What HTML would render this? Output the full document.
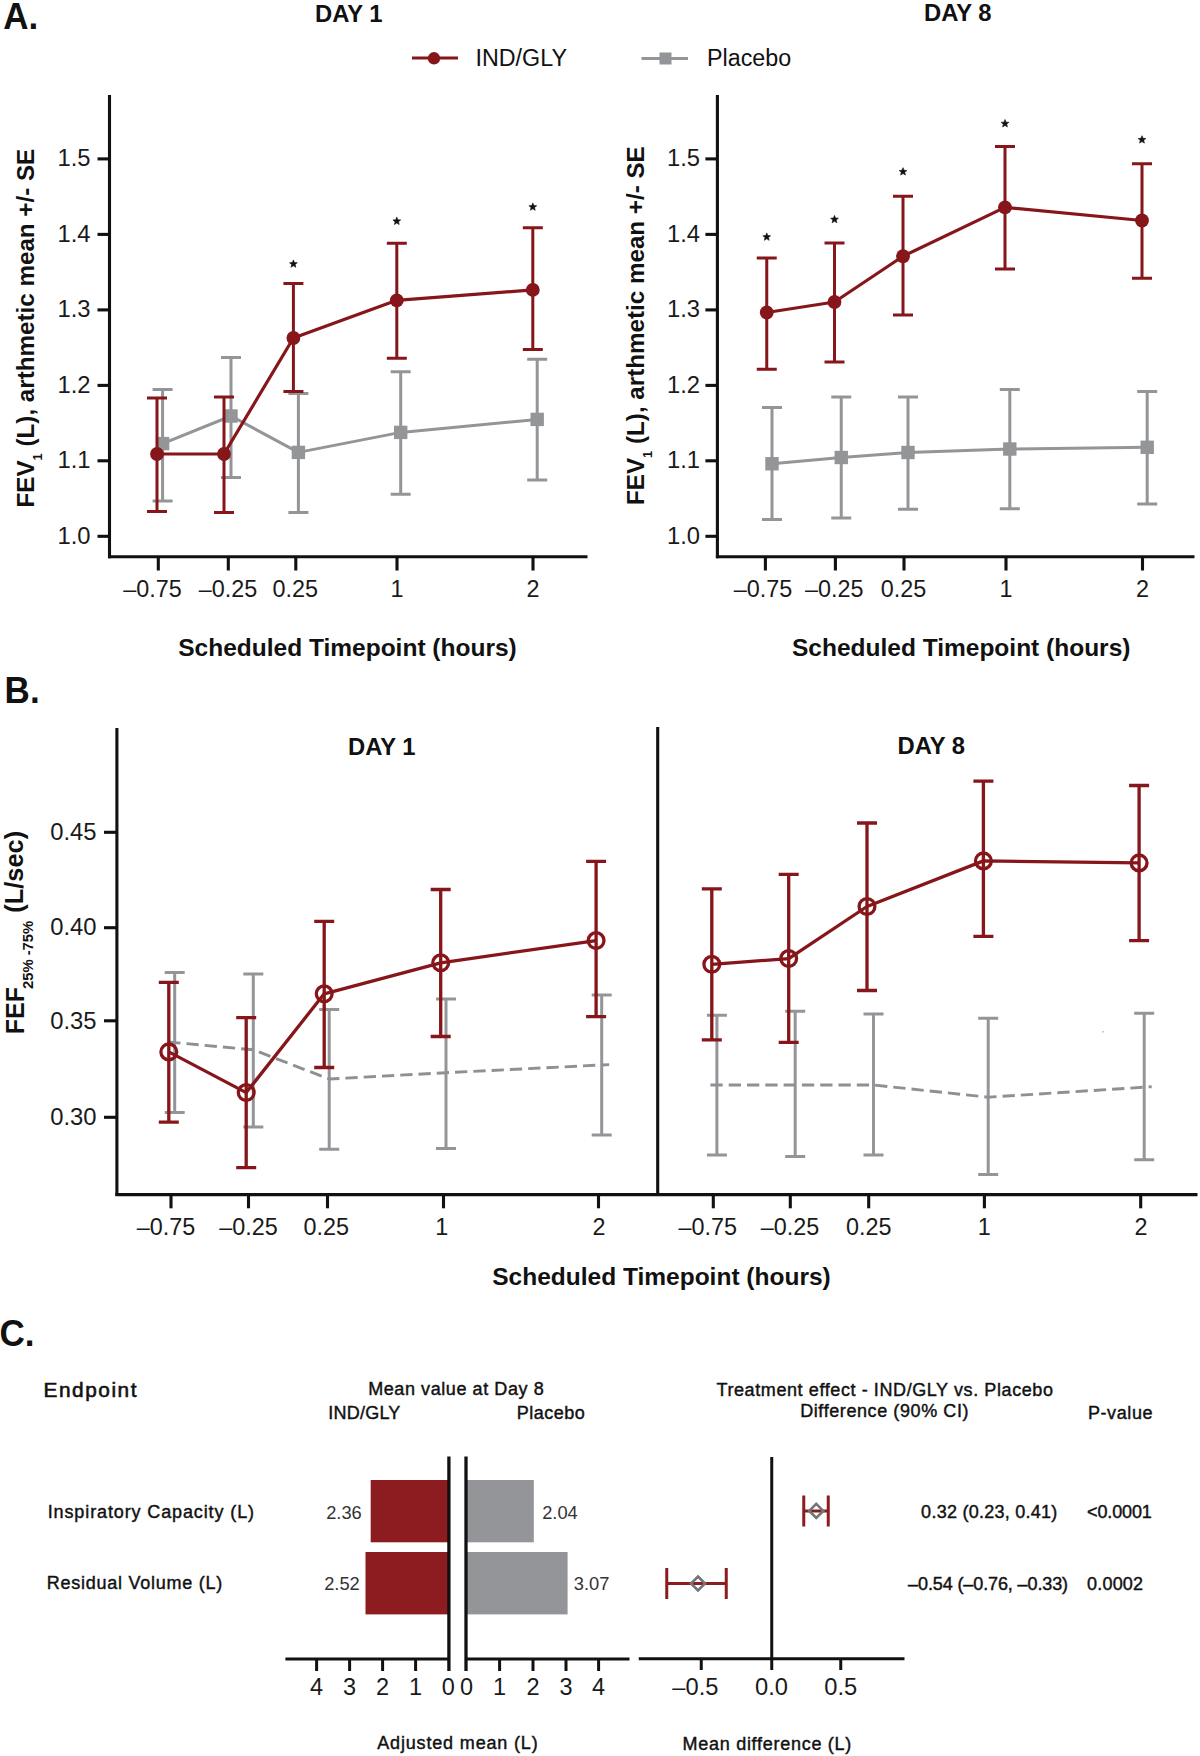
<!DOCTYPE html>
<html><head><meta charset="utf-8"><style>
html,body{margin:0;padding:0;background:#fff;}
svg{display:block;font-family:"Liberation Sans", sans-serif;}
</style></head><body>
<svg width="1200" height="1756" viewBox="0 0 1200 1756">
<rect x="0" y="0" width="1200" height="1756" fill="#fff"/>
<text transform="translate(3.2,28.5) scale(0.96,1)" font-size="36.5" font-weight="bold" fill="#111">A.</text>
<text x="348.75" y="21.8" font-size="23.8" font-weight="bold" text-anchor="middle" fill="#111" >DAY 1</text>
<text x="957.7" y="21.3" font-size="23.8" font-weight="bold" text-anchor="middle" fill="#111" >DAY 8</text>
<line x1="412" y1="58" x2="458" y2="58" stroke="#86161a" stroke-width="3" />
<circle cx="434" cy="58.3" r="6.2" fill="#86161a"/>
<text x="475.5" y="66" font-size="23.3" font-weight="normal" text-anchor="start" fill="#111" >IND/GLY</text>
<line x1="641.5" y1="58.5" x2="688" y2="58.5" stroke="#939598" stroke-width="3" />
<rect x="659.5" y="52.5" width="12" height="12" fill="#939598"/>
<text x="707" y="66" font-size="23.3" font-weight="normal" text-anchor="start" fill="#111" >Placebo</text>
<line x1="109.5" y1="95" x2="109.5" y2="558.3" stroke="#111" stroke-width="3.1" />
<line x1="108.0" y1="556.7" x2="587.5" y2="556.7" stroke="#111" stroke-width="3.1" />
<line x1="97.5" y1="158.9" x2="109.5" y2="158.9" stroke="#111" stroke-width="3.1" />
<text x="90.5" y="166.1" font-size="23.8" font-weight="normal" text-anchor="end" fill="#1a1a1a" >1.5</text>
<line x1="97.5" y1="234.4" x2="109.5" y2="234.4" stroke="#111" stroke-width="3.1" />
<text x="90.5" y="241.6" font-size="23.8" font-weight="normal" text-anchor="end" fill="#1a1a1a" >1.4</text>
<line x1="97.5" y1="309.9" x2="109.5" y2="309.9" stroke="#111" stroke-width="3.1" />
<text x="90.5" y="317.09999999999997" font-size="23.8" font-weight="normal" text-anchor="end" fill="#1a1a1a" >1.3</text>
<line x1="97.5" y1="385.4" x2="109.5" y2="385.4" stroke="#111" stroke-width="3.1" />
<text x="90.5" y="392.59999999999997" font-size="23.8" font-weight="normal" text-anchor="end" fill="#1a1a1a" >1.2</text>
<line x1="97.5" y1="460.8" x2="109.5" y2="460.8" stroke="#111" stroke-width="3.1" />
<text x="90.5" y="468.0" font-size="23.8" font-weight="normal" text-anchor="end" fill="#1a1a1a" >1.1</text>
<line x1="97.5" y1="536.3" x2="109.5" y2="536.3" stroke="#111" stroke-width="3.1" />
<text x="90.5" y="543.5" font-size="23.8" font-weight="normal" text-anchor="end" fill="#1a1a1a" >1.0</text>
<line x1="158.3" y1="556.7" x2="158.3" y2="570.5" stroke="#111" stroke-width="3.1" />
<text x="152.5" y="597.3" font-size="23.4" font-weight="normal" text-anchor="middle" fill="#1a1a1a" >–0.75</text>
<line x1="228.3" y1="556.7" x2="228.3" y2="570.5" stroke="#111" stroke-width="3.1" />
<text x="228" y="597.3" font-size="23.4" font-weight="normal" text-anchor="middle" fill="#1a1a1a" >–0.25</text>
<line x1="295.8" y1="556.7" x2="295.8" y2="570.5" stroke="#111" stroke-width="3.1" />
<text x="295.3" y="597.3" font-size="23.4" font-weight="normal" text-anchor="middle" fill="#1a1a1a" >0.25</text>
<line x1="397" y1="556.7" x2="397" y2="570.5" stroke="#111" stroke-width="3.1" />
<text x="397" y="597.3" font-size="23.4" font-weight="normal" text-anchor="middle" fill="#1a1a1a" >1</text>
<line x1="533" y1="556.7" x2="533" y2="570.5" stroke="#111" stroke-width="3.1" />
<text x="533" y="597.3" font-size="23.4" font-weight="normal" text-anchor="middle" fill="#1a1a1a" >2</text>
<text x="347.5" y="655.5" font-size="24.5" font-weight="bold" text-anchor="middle" fill="#111" >Scheduled Timepoint (hours)</text>
<text transform="translate(34.4,507.5) rotate(-90)" font-size="24.2" font-weight="bold" fill="#111">FEV<tspan font-size="13" dy="8">1</tspan><tspan dy="-8"> (L), arthmetic mean +/- SE</tspan></text>
<line x1="717.4" y1="95" x2="717.4" y2="558.3" stroke="#111" stroke-width="3.1" />
<line x1="715.9" y1="556.7" x2="1194.5" y2="556.7" stroke="#111" stroke-width="3.1" />
<line x1="705.4" y1="158.9" x2="717.4" y2="158.9" stroke="#111" stroke-width="3.1" />
<text x="700" y="166.1" font-size="23.8" font-weight="normal" text-anchor="end" fill="#1a1a1a" >1.5</text>
<line x1="705.4" y1="234.4" x2="717.4" y2="234.4" stroke="#111" stroke-width="3.1" />
<text x="700" y="241.6" font-size="23.8" font-weight="normal" text-anchor="end" fill="#1a1a1a" >1.4</text>
<line x1="705.4" y1="309.9" x2="717.4" y2="309.9" stroke="#111" stroke-width="3.1" />
<text x="700" y="317.09999999999997" font-size="23.8" font-weight="normal" text-anchor="end" fill="#1a1a1a" >1.3</text>
<line x1="705.4" y1="385.4" x2="717.4" y2="385.4" stroke="#111" stroke-width="3.1" />
<text x="700" y="392.59999999999997" font-size="23.8" font-weight="normal" text-anchor="end" fill="#1a1a1a" >1.2</text>
<line x1="705.4" y1="460.8" x2="717.4" y2="460.8" stroke="#111" stroke-width="3.1" />
<text x="700" y="468.0" font-size="23.8" font-weight="normal" text-anchor="end" fill="#1a1a1a" >1.1</text>
<line x1="705.4" y1="536.3" x2="717.4" y2="536.3" stroke="#111" stroke-width="3.1" />
<text x="700" y="543.5" font-size="23.8" font-weight="normal" text-anchor="end" fill="#1a1a1a" >1.0</text>
<line x1="765.4" y1="556.7" x2="765.4" y2="570.5" stroke="#111" stroke-width="3.1" />
<text x="763" y="597.3" font-size="23.4" font-weight="normal" text-anchor="middle" fill="#1a1a1a" >–0.75</text>
<line x1="835.4" y1="556.7" x2="835.4" y2="570.5" stroke="#111" stroke-width="3.1" />
<text x="834.3" y="597.3" font-size="23.4" font-weight="normal" text-anchor="middle" fill="#1a1a1a" >–0.25</text>
<line x1="904" y1="556.7" x2="904" y2="570.5" stroke="#111" stroke-width="3.1" />
<text x="903.5" y="597.3" font-size="23.4" font-weight="normal" text-anchor="middle" fill="#1a1a1a" >0.25</text>
<line x1="1006" y1="556.7" x2="1006" y2="570.5" stroke="#111" stroke-width="3.1" />
<text x="1006" y="597.3" font-size="23.4" font-weight="normal" text-anchor="middle" fill="#1a1a1a" >1</text>
<line x1="1142.5" y1="556.7" x2="1142.5" y2="570.5" stroke="#111" stroke-width="3.1" />
<text x="1142.5" y="597.3" font-size="23.4" font-weight="normal" text-anchor="middle" fill="#1a1a1a" >2</text>
<text x="961.2" y="655.5" font-size="24.5" font-weight="bold" text-anchor="middle" fill="#111" >Scheduled Timepoint (hours)</text>
<text transform="translate(644.2,505.0) rotate(-90)" font-size="24.2" font-weight="bold" fill="#111">FEV<tspan font-size="13" dy="8">1</tspan><tspan dy="-8"> (L), arthmetic mean +/- SE</tspan></text>
<path d="M162.6,389.6V501M152.6,389.6H172.6M152.6,501H172.6" stroke="#939598" stroke-width="3.0" fill="none"/>
<path d="M231,357.4V477.6M221.0,357.4H241.0M221.0,477.6H241.0" stroke="#939598" stroke-width="3.0" fill="none"/>
<path d="M298.4,393.4V512.4M288.4,393.4H308.4M288.4,512.4H308.4" stroke="#939598" stroke-width="3.0" fill="none"/>
<path d="M400.7,371.8V494.2M390.7,371.8H410.7M390.7,494.2H410.7" stroke="#939598" stroke-width="3.0" fill="none"/>
<path d="M537.2,359.2V480.1M527.2,359.2H547.2M527.2,480.1H547.2" stroke="#939598" stroke-width="3.0" fill="none"/>
<polyline points="162.6,443.6 231,416 298.4,452.4 400.7,432.4 537.2,419.4" stroke="#939598" stroke-width="3.0" fill="none" stroke-linejoin="round" />
<rect x="155.9" y="436.90000000000003" width="13.4" height="13.4" fill="#939598"/>
<rect x="224.3" y="409.3" width="13.4" height="13.4" fill="#939598"/>
<rect x="291.7" y="445.7" width="13.4" height="13.4" fill="#939598"/>
<rect x="394.0" y="425.7" width="13.4" height="13.4" fill="#939598"/>
<rect x="530.5" y="412.7" width="13.4" height="13.4" fill="#939598"/>
<path d="M157,398V511.4M147.0,398H167.0M147.0,511.4H167.0" stroke="#86161a" stroke-width="3.0" fill="none"/>
<path d="M224,397V512.4M214.0,397H234.0M214.0,512.4H234.0" stroke="#86161a" stroke-width="3.0" fill="none"/>
<path d="M293.4,283.6V391.4M283.4,283.6H303.4M283.4,391.4H303.4" stroke="#86161a" stroke-width="3.0" fill="none"/>
<path d="M396.8,243.3V358.3M386.8,243.3H406.8M386.8,358.3H406.8" stroke="#86161a" stroke-width="3.0" fill="none"/>
<path d="M532.8,227.7V349.4M522.8,227.7H542.8M522.8,349.4H542.8" stroke="#86161a" stroke-width="3.0" fill="none"/>
<polyline points="157,454 224,454 293.4,338 396.8,300.3 532.8,289.9" stroke="#86161a" stroke-width="3.2" fill="none" stroke-linejoin="round" />
<circle cx="157" cy="454" r="6.9" fill="#86161a"/>
<circle cx="224" cy="454" r="6.9" fill="#86161a"/>
<circle cx="293.4" cy="338" r="6.9" fill="#86161a"/>
<polygon points="293.40,259.90 294.46,262.54 297.30,262.73 295.11,264.56 295.81,267.32 293.40,265.80 290.99,267.32 291.69,264.56 289.50,262.73 292.34,262.54" fill="#111" stroke="#111" stroke-width="0.6" stroke-linejoin="round"/>
<circle cx="396.8" cy="300.3" r="6.9" fill="#86161a"/>
<polygon points="396.80,217.10 397.86,219.74 400.70,219.93 398.51,221.76 399.21,224.52 396.80,223.00 394.39,224.52 395.09,221.76 392.90,219.93 395.74,219.74" fill="#111" stroke="#111" stroke-width="0.6" stroke-linejoin="round"/>
<circle cx="532.8" cy="289.9" r="6.9" fill="#86161a"/>
<polygon points="532.80,202.90 533.86,205.54 536.70,205.73 534.51,207.56 535.21,210.32 532.80,208.80 530.39,210.32 531.09,207.56 528.90,205.73 531.74,205.54" fill="#111" stroke="#111" stroke-width="0.6" stroke-linejoin="round"/>
<path d="M772,407.5V519.5M762.0,407.5H782.0M762.0,519.5H782.0" stroke="#939598" stroke-width="3.0" fill="none"/>
<path d="M841.25,397V518M831.25,397H851.25M831.25,518H851.25" stroke="#939598" stroke-width="3.0" fill="none"/>
<path d="M908,397V509.25M898.0,397H918.0M898.0,509.25H918.0" stroke="#939598" stroke-width="3.0" fill="none"/>
<path d="M1009.8,389.5V508.7M999.8,389.5H1019.8M999.8,508.7H1019.8" stroke="#939598" stroke-width="3.0" fill="none"/>
<path d="M1147.2,391.6V504M1137.2,391.6H1157.2M1137.2,504H1157.2" stroke="#939598" stroke-width="3.0" fill="none"/>
<polyline points="772,463.75 841.25,457.5 908,452.5 1009.8,449 1147.2,447.3" stroke="#939598" stroke-width="3.0" fill="none" stroke-linejoin="round" />
<rect x="765.3" y="457.05" width="13.4" height="13.4" fill="#939598"/>
<rect x="834.55" y="450.8" width="13.4" height="13.4" fill="#939598"/>
<rect x="901.3" y="445.8" width="13.4" height="13.4" fill="#939598"/>
<rect x="1003.0999999999999" y="442.3" width="13.4" height="13.4" fill="#939598"/>
<rect x="1140.5" y="440.6" width="13.4" height="13.4" fill="#939598"/>
<path d="M766.75,258V369.25M756.75,258H776.75M756.75,369.25H776.75" stroke="#86161a" stroke-width="3.0" fill="none"/>
<path d="M834.5,243V362M824.5,243H844.5M824.5,362H844.5" stroke="#86161a" stroke-width="3.0" fill="none"/>
<path d="M903,196.25V315M893.0,196.25H913.0M893.0,315H913.0" stroke="#86161a" stroke-width="3.0" fill="none"/>
<path d="M1005,146.6V269M995.0,146.6H1015.0M995.0,269H1015.0" stroke="#86161a" stroke-width="3.0" fill="none"/>
<path d="M1142,163.7V278.2M1132.0,163.7H1152.0M1132.0,278.2H1152.0" stroke="#86161a" stroke-width="3.0" fill="none"/>
<polyline points="766.75,312.5 834.5,302 903,256.25 1005,207.4 1142,220.5" stroke="#86161a" stroke-width="3.2" fill="none" stroke-linejoin="round" />
<circle cx="766.75" cy="312.5" r="6.9" fill="#86161a"/>
<polygon points="766.75,232.90 767.81,235.54 770.65,235.73 768.46,237.56 769.16,240.32 766.75,238.80 764.34,240.32 765.04,237.56 762.85,235.73 765.69,235.54" fill="#111" stroke="#111" stroke-width="0.6" stroke-linejoin="round"/>
<circle cx="834.5" cy="302" r="6.9" fill="#86161a"/>
<polygon points="834.50,215.40 835.56,218.04 838.40,218.23 836.21,220.06 836.91,222.82 834.50,221.30 832.09,222.82 832.79,220.06 830.60,218.23 833.44,218.04" fill="#111" stroke="#111" stroke-width="0.6" stroke-linejoin="round"/>
<circle cx="903" cy="256.25" r="6.9" fill="#86161a"/>
<polygon points="903.00,167.65 904.06,170.29 906.90,170.48 904.71,172.31 905.41,175.07 903.00,173.55 900.59,175.07 901.29,172.31 899.10,170.48 901.94,170.29" fill="#111" stroke="#111" stroke-width="0.6" stroke-linejoin="round"/>
<circle cx="1005" cy="207.4" r="6.9" fill="#86161a"/>
<polygon points="1005.00,119.50 1006.06,122.14 1008.90,122.33 1006.71,124.16 1007.41,126.92 1005.00,125.40 1002.59,126.92 1003.29,124.16 1001.10,122.33 1003.94,122.14" fill="#111" stroke="#111" stroke-width="0.6" stroke-linejoin="round"/>
<circle cx="1142" cy="220.5" r="6.9" fill="#86161a"/>
<polygon points="1142.00,135.70 1143.06,138.34 1145.90,138.53 1143.71,140.36 1144.41,143.12 1142.00,141.60 1139.59,143.12 1140.29,140.36 1138.10,138.53 1140.94,138.34" fill="#111" stroke="#111" stroke-width="0.6" stroke-linejoin="round"/>
<text transform="translate(4.6,702.5) scale(0.96,1)" font-size="36.5" font-weight="bold" fill="#111">B.</text>
<line x1="116.9" y1="728" x2="116.9" y2="1196" stroke="#111" stroke-width="3.1" />
<line x1="657.7" y1="727" x2="657.7" y2="1196" stroke="#111" stroke-width="3.1" />
<line x1="115.4" y1="1194.6" x2="1197.5" y2="1194.6" stroke="#111" stroke-width="3.1" />
<line x1="104" y1="832.3" x2="116.9" y2="832.3" stroke="#111" stroke-width="3.1" />
<text x="96.5" y="840.0" font-size="23.8" font-weight="normal" text-anchor="end" fill="#1a1a1a" >0.45</text>
<line x1="104" y1="927.7" x2="116.9" y2="927.7" stroke="#111" stroke-width="3.1" />
<text x="96.5" y="935.4000000000001" font-size="23.8" font-weight="normal" text-anchor="end" fill="#1a1a1a" >0.40</text>
<line x1="104" y1="1020.8" x2="116.9" y2="1020.8" stroke="#111" stroke-width="3.1" />
<text x="96.5" y="1028.5" font-size="23.8" font-weight="normal" text-anchor="end" fill="#1a1a1a" >0.35</text>
<line x1="104" y1="1117.3" x2="116.9" y2="1117.3" stroke="#111" stroke-width="3.1" />
<text x="96.5" y="1125.0" font-size="23.8" font-weight="normal" text-anchor="end" fill="#1a1a1a" >0.30</text>
<line x1="171" y1="1194.6" x2="171" y2="1208.3" stroke="#111" stroke-width="3.1" />
<text x="166" y="1235.3" font-size="23.4" font-weight="normal" text-anchor="middle" fill="#1a1a1a" >–0.75</text>
<line x1="248.5" y1="1194.6" x2="248.5" y2="1208.3" stroke="#111" stroke-width="3.1" />
<text x="248.5" y="1235.3" font-size="23.4" font-weight="normal" text-anchor="middle" fill="#1a1a1a" >–0.25</text>
<line x1="327.5" y1="1194.6" x2="327.5" y2="1208.3" stroke="#111" stroke-width="3.1" />
<text x="326.3" y="1235.3" font-size="23.4" font-weight="normal" text-anchor="middle" fill="#1a1a1a" >0.25</text>
<line x1="443.5" y1="1194.6" x2="443.5" y2="1208.3" stroke="#111" stroke-width="3.1" />
<text x="441.8" y="1235.3" font-size="23.4" font-weight="normal" text-anchor="middle" fill="#1a1a1a" >1</text>
<line x1="598.5" y1="1194.6" x2="598.5" y2="1208.3" stroke="#111" stroke-width="3.1" />
<text x="599" y="1235.3" font-size="23.4" font-weight="normal" text-anchor="middle" fill="#1a1a1a" >2</text>
<line x1="713.3" y1="1194.6" x2="713.3" y2="1208.3" stroke="#111" stroke-width="3.1" />
<text x="707.7" y="1235.3" font-size="23.4" font-weight="normal" text-anchor="middle" fill="#1a1a1a" >–0.75</text>
<line x1="790.3" y1="1194.6" x2="790.3" y2="1208.3" stroke="#111" stroke-width="3.1" />
<text x="790" y="1235.3" font-size="23.4" font-weight="normal" text-anchor="middle" fill="#1a1a1a" >–0.25</text>
<line x1="868.7" y1="1194.6" x2="868.7" y2="1208.3" stroke="#111" stroke-width="3.1" />
<text x="868.7" y="1235.3" font-size="23.4" font-weight="normal" text-anchor="middle" fill="#1a1a1a" >0.25</text>
<line x1="984.4" y1="1194.6" x2="984.4" y2="1208.3" stroke="#111" stroke-width="3.1" />
<text x="984.2" y="1235.3" font-size="23.4" font-weight="normal" text-anchor="middle" fill="#1a1a1a" >1</text>
<line x1="1140.7" y1="1194.6" x2="1140.7" y2="1208.3" stroke="#111" stroke-width="3.1" />
<text x="1141" y="1235.3" font-size="23.4" font-weight="normal" text-anchor="middle" fill="#1a1a1a" >2</text>
<text x="661.5" y="1285.2" font-size="24.5" font-weight="bold" text-anchor="middle" fill="#111" >Scheduled Timepoint (hours)</text>
<text x="381.7" y="754.8" font-size="23.8" font-weight="bold" text-anchor="middle" fill="#111" >DAY 1</text>
<text x="931.2" y="754.4" font-size="23.8" font-weight="bold" text-anchor="middle" fill="#111" >DAY 8</text>
<text transform="translate(23.6,1034.3) rotate(-90)" font-size="25" font-weight="bold" fill="#111">FEF<tspan font-size="14.8" dx="-2" dy="9.5">25% -75%</tspan></text>
<text transform="translate(23.4,912.7) rotate(-90)" font-size="25.4" font-weight="bold" fill="#111">(L/sec)</text>
<path d="M174.7,972.6V1112.4M164.7,972.6H184.7M164.7,1112.4H184.7" stroke="#939598" stroke-width="3" fill="none"/>
<path d="M253.3,973.9V1127.1M243.3,973.9H263.3M243.3,1127.1H263.3" stroke="#939598" stroke-width="3" fill="none"/>
<path d="M329.2,1009.4V1149.3M319.2,1009.4H339.2M319.2,1149.3H339.2" stroke="#939598" stroke-width="3" fill="none"/>
<path d="M446,999V1148.5M436.0,999H456.0M436.0,1148.5H456.0" stroke="#939598" stroke-width="3" fill="none"/>
<path d="M601.7,995V1135M591.7,995H611.7M591.7,1135H611.7" stroke="#939598" stroke-width="3" fill="none"/>
<polyline points="168.2,1042.0045801526717 174.7,1042.6 253.3,1049.8 329.2,1079 446,1072.7 601.7,1065 609.2,1064.6290944123314" stroke="#8e9094" stroke-width="2.9" fill="none" stroke-linejoin="round" stroke-dasharray="12.3 6"/>
<path d="M168.8,982.4V1122.1M158.8,982.4H178.8M158.8,1122.1H178.8" stroke="#86161a" stroke-width="3.3" fill="none"/>
<path d="M246.2,1017.7V1167.7M236.2,1017.7H256.2M236.2,1167.7H256.2" stroke="#86161a" stroke-width="3.3" fill="none"/>
<path d="M324.2,921.3V1067.5M314.2,921.3H334.2M314.2,1067.5H334.2" stroke="#86161a" stroke-width="3.3" fill="none"/>
<path d="M440.7,889.5V1036.5M430.7,889.5H450.7M430.7,1036.5H450.7" stroke="#86161a" stroke-width="3.3" fill="none"/>
<path d="M596.1,861.3V1016.7M586.1,861.3H606.1M586.1,1016.7H606.1" stroke="#86161a" stroke-width="3.3" fill="none"/>
<polyline points="168.8,1051.9 246.2,1092.6 324.2,993.8 440.7,962.8 596.1,940.6" stroke="#86161a" stroke-width="3.3" fill="none" stroke-linejoin="round" />
<circle cx="168.8" cy="1051.9" r="7.9" fill="none" stroke="#86161a" stroke-width="3.3"/>
<circle cx="246.2" cy="1092.6" r="7.9" fill="none" stroke="#86161a" stroke-width="3.3"/>
<circle cx="324.2" cy="993.8" r="7.9" fill="none" stroke="#86161a" stroke-width="3.3"/>
<circle cx="440.7" cy="962.8" r="7.9" fill="none" stroke="#86161a" stroke-width="3.3"/>
<circle cx="596.1" cy="940.6" r="7.9" fill="none" stroke="#86161a" stroke-width="3.3"/>
<path d="M716.9,1015.3V1154.9M706.9,1015.3H726.9M706.9,1154.9H726.9" stroke="#939598" stroke-width="3" fill="none"/>
<path d="M795.2,1011.3V1156.6M785.2,1011.3H805.2M785.2,1156.6H805.2" stroke="#939598" stroke-width="3" fill="none"/>
<path d="M873.5,1013.9V1154.9M863.5,1013.9H883.5M863.5,1154.9H883.5" stroke="#939598" stroke-width="3" fill="none"/>
<path d="M988.2,1018.3V1174.6M978.2,1018.3H998.2M978.2,1174.6H998.2" stroke="#939598" stroke-width="3" fill="none"/>
<path d="M1144.2,1013.2V1159.8M1134.2,1013.2H1154.2M1134.2,1159.8H1154.2" stroke="#939598" stroke-width="3" fill="none"/>
<polyline points="710.4,1085.0 716.9,1085 795.2,1085 873.5,1085 988.2,1097.2 1144.2,1087.2 1151.7,1086.7192307692308" stroke="#8e9094" stroke-width="2.9" fill="none" stroke-linejoin="round" stroke-dasharray="12.3 6"/>
<path d="M711.8,888.8V1039.8M701.8,888.8H721.8M701.8,1039.8H721.8" stroke="#86161a" stroke-width="3.3" fill="none"/>
<path d="M788.7,874.3V1042.3M778.7,874.3H798.7M778.7,1042.3H798.7" stroke="#86161a" stroke-width="3.3" fill="none"/>
<path d="M867,823V990.5M857.0,823H877.0M857.0,990.5H877.0" stroke="#86161a" stroke-width="3.3" fill="none"/>
<path d="M983.4,781.2V936.3M973.4,781.2H993.4M973.4,936.3H993.4" stroke="#86161a" stroke-width="3.3" fill="none"/>
<path d="M1139.1,785.5V940.6M1129.1,785.5H1149.1M1129.1,940.6H1149.1" stroke="#86161a" stroke-width="3.3" fill="none"/>
<polyline points="711.8,964.3 788.7,958.6 867,906.5 983.4,860.9 1139.1,862.9" stroke="#86161a" stroke-width="3.3" fill="none" stroke-linejoin="round" />
<circle cx="711.8" cy="964.3" r="7.9" fill="none" stroke="#86161a" stroke-width="3.3"/>
<circle cx="788.7" cy="958.6" r="7.9" fill="none" stroke="#86161a" stroke-width="3.3"/>
<circle cx="867" cy="906.5" r="7.9" fill="none" stroke="#86161a" stroke-width="3.3"/>
<circle cx="983.4" cy="860.9" r="7.9" fill="none" stroke="#86161a" stroke-width="3.3"/>
<circle cx="1139.1" cy="862.9" r="7.9" fill="none" stroke="#86161a" stroke-width="3.3"/>
<circle cx="1103" cy="1031.7" r="0.9" fill="#bbb"/>
<text transform="translate(-0.6,1345.5) scale(0.96,1)" font-size="36.5" font-weight="bold" fill="#111">C.</text>
<text x="43.55" y="1397" font-size="20.8" font-weight="normal" letter-spacing="1.540" fill="#111" stroke="#111" stroke-width="0.6">Endpoint</text>
<text x="368.21" y="1395.4" font-size="18.0" font-weight="normal" letter-spacing="0.577" fill="#111" stroke="#111" stroke-width="0.42">Mean value at Day 8</text>
<text x="328.31" y="1418.5" font-size="18.0" font-weight="normal" letter-spacing="0.216" fill="#111" stroke="#111" stroke-width="0.42">IND/GLY</text>
<text x="516.71" y="1418.5" font-size="18.0" font-weight="normal" letter-spacing="0.505" fill="#111" stroke="#111" stroke-width="0.42">Placebo</text>
<text x="716.51" y="1395.5" font-size="18.0" font-weight="normal" letter-spacing="0.595" fill="#111" stroke="#111" stroke-width="0.42">Treatment effect - IND/GLY vs. Placebo</text>
<text x="800.21" y="1417.2" font-size="18.0" font-weight="normal" letter-spacing="0.586" fill="#111" stroke="#111" stroke-width="0.42">Difference (90% CI)</text>
<text x="1087.91" y="1419.4" font-size="18.0" font-weight="normal" letter-spacing="0.607" fill="#111" stroke="#111" stroke-width="0.42">P-value</text>
<text x="47.71" y="1518" font-size="18.0" font-weight="normal" letter-spacing="0.881" fill="#111" stroke="#111" stroke-width="0.42">Inspiratory Capacity (L)</text>
<text x="46.71" y="1589.3" font-size="18.0" font-weight="normal" letter-spacing="0.750" fill="#111" stroke="#111" stroke-width="0.42">Residual Volume (L)</text>
<rect x="370.7" y="1480" width="78" height="62.3" fill="#8c1c1f"/>
<rect x="365.5" y="1552" width="83.2" height="62.4" fill="#8c1c1f"/>
<rect x="466" y="1480" width="67.8" height="62.3" fill="#939598"/>
<rect x="466" y="1552" width="101.6" height="62.4" fill="#939598"/>
<text x="361.8" y="1519.2" font-size="18.3" font-weight="normal" text-anchor="end" fill="#333" >2.36</text>
<text x="542.2" y="1519.2" font-size="18.3" font-weight="normal" text-anchor="start" fill="#333" >2.04</text>
<text x="359.8" y="1590.3" font-size="18.3" font-weight="normal" text-anchor="end" fill="#333" >2.52</text>
<text x="573.8" y="1590.3" font-size="18.3" font-weight="normal" text-anchor="start" fill="#333" >3.07</text>
<line x1="448.9" y1="1456.5" x2="448.9" y2="1671" stroke="#111" stroke-width="3.3" />
<line x1="466" y1="1456.5" x2="466" y2="1671" stroke="#111" stroke-width="3.3" />
<line x1="285.4" y1="1659" x2="448.8" y2="1659" stroke="#111" stroke-width="3" />
<line x1="466" y1="1659" x2="629.5" y2="1659" stroke="#111" stroke-width="3" />
<line x1="316.6" y1="1659" x2="316.6" y2="1671" stroke="#111" stroke-width="3" />
<text x="316.6" y="1694.8" font-size="23.5" font-weight="normal" text-anchor="middle" fill="#1a1a1a" >4</text>
<line x1="349.6" y1="1659" x2="349.6" y2="1671" stroke="#111" stroke-width="3" />
<text x="349.6" y="1694.8" font-size="23.5" font-weight="normal" text-anchor="middle" fill="#1a1a1a" >3</text>
<line x1="382.6" y1="1659" x2="382.6" y2="1671" stroke="#111" stroke-width="3" />
<text x="382.6" y="1694.8" font-size="23.5" font-weight="normal" text-anchor="middle" fill="#1a1a1a" >2</text>
<line x1="415.6" y1="1659" x2="415.6" y2="1671" stroke="#111" stroke-width="3" />
<text x="415.6" y="1694.8" font-size="23.5" font-weight="normal" text-anchor="middle" fill="#1a1a1a" >1</text>
<text x="448.2" y="1694.8" font-size="23.5" font-weight="normal" text-anchor="middle" fill="#1a1a1a" >0</text>
<text x="466.6" y="1694.8" font-size="23.5" font-weight="normal" text-anchor="middle" fill="#1a1a1a" >0</text>
<line x1="499.6" y1="1659" x2="499.6" y2="1671" stroke="#111" stroke-width="3" />
<text x="499.6" y="1694.8" font-size="23.5" font-weight="normal" text-anchor="middle" fill="#1a1a1a" >1</text>
<line x1="533" y1="1659" x2="533" y2="1671" stroke="#111" stroke-width="3" />
<text x="533" y="1694.8" font-size="23.5" font-weight="normal" text-anchor="middle" fill="#1a1a1a" >2</text>
<line x1="566" y1="1659" x2="566" y2="1671" stroke="#111" stroke-width="3" />
<text x="566" y="1694.8" font-size="23.5" font-weight="normal" text-anchor="middle" fill="#1a1a1a" >3</text>
<line x1="598.6" y1="1659" x2="598.6" y2="1671" stroke="#111" stroke-width="3" />
<text x="598.6" y="1694.8" font-size="23.5" font-weight="normal" text-anchor="middle" fill="#1a1a1a" >4</text>
<text x="377.21" y="1749.4" font-size="18.0" font-weight="normal" letter-spacing="0.838" fill="#111" stroke="#111" stroke-width="0.42">Adjusted mean (L)</text>
<line x1="771.75" y1="1457" x2="771.75" y2="1670" stroke="#111" stroke-width="3" />
<line x1="638.75" y1="1658.8" x2="904.5" y2="1658.8" stroke="#111" stroke-width="3" />
<line x1="701.25" y1="1658.8" x2="701.25" y2="1670" stroke="#111" stroke-width="3" />
<text x="695.4" y="1694.5" font-size="23.7" font-weight="normal" text-anchor="middle" fill="#1a1a1a" >–0.5</text>
<line x1="840.75" y1="1658.8" x2="840.75" y2="1670" stroke="#111" stroke-width="3" />
<text x="840.75" y="1694.5" font-size="23.7" font-weight="normal" text-anchor="middle" fill="#1a1a1a" >0.5</text>
<text x="771.5" y="1694.5" font-size="23.7" font-weight="normal" text-anchor="middle" fill="#1a1a1a" >0.0</text>
<path d="M803.75,1510.9H828.25M803.75,1495.4V1526.4M828.25,1495.4V1526.4" stroke="#8c1c1f" stroke-width="3" fill="none"/>
<path d="M816.25,1503.9L823.25,1510.9L816.25,1517.9L809.25,1510.9Z" stroke="#6f7579" stroke-width="2.6" fill="none"/>
<path d="M666.75,1583.5H726.25M666.75,1568.0V1599.0M726.25,1568.0V1599.0" stroke="#8c1c1f" stroke-width="3" fill="none"/>
<path d="M698,1576.5L705,1583.5L698,1590.5L691,1583.5Z" stroke="#6f7579" stroke-width="2.6" fill="none"/>
<text x="921.11" y="1518.2" font-size="18.0" font-weight="normal" letter-spacing="0.256" fill="#111" stroke="#111" stroke-width="0.42">0.32 (0.23, 0.41)</text>
<text x="1087.01" y="1518.2" font-size="18.0" font-weight="normal" letter-spacing="-0.132" fill="#111" stroke="#111" stroke-width="0.42">&lt;0.0001</text>
<text x="908.11" y="1589.7" font-size="18.0" font-weight="normal" letter-spacing="-0.113" fill="#111" stroke="#111" stroke-width="0.42">–0.54 (–0.76, –0.33)</text>
<text x="1087.01" y="1589.7" font-size="18.0" font-weight="normal" letter-spacing="0.204" fill="#111" stroke="#111" stroke-width="0.42">0.0002</text>
<text x="682.51" y="1750.4" font-size="18.0" font-weight="normal" letter-spacing="0.724" fill="#111" stroke="#111" stroke-width="0.42">Mean difference (L)</text>
</svg></body></html>
